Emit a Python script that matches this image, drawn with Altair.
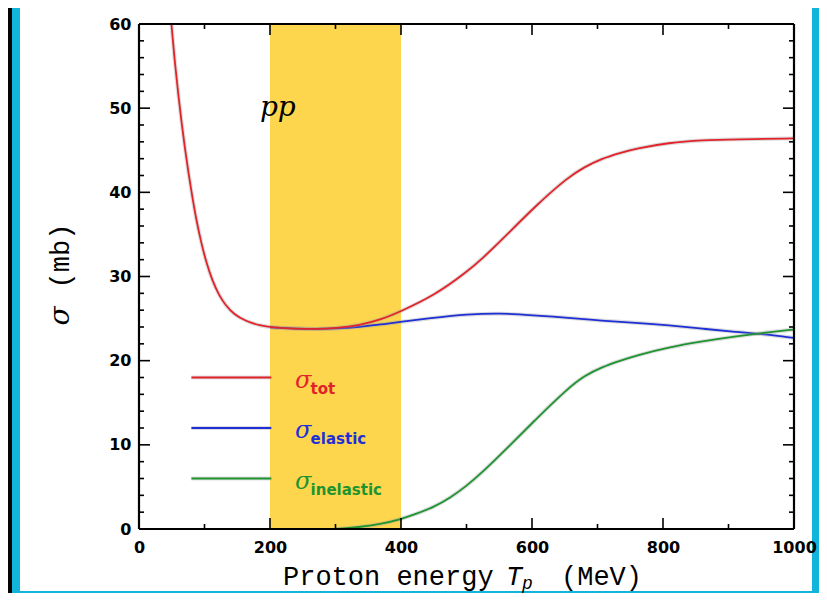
import altair as alt
import pandas as pd

# ---------------- data ----------------
tot_T = [49.5, 55, 60, 65, 70, 75, 80, 87, 95, 103, 112, 122, 132, 145, 163, 185, 203, 240, 271, 300, 337,
         370, 398, 450, 500, 525, 552, 604, 655, 680, 706, 735, 758, 809, 860, 912, 1000]
tot_s = [60, 55.2, 51.6, 48.3, 45.3, 42.6, 40.1, 36.9, 34.0, 31.6, 29.5, 27.8, 26.6, 25.5, 24.7, 24.15, 23.95,
         23.8, 23.75, 23.85, 24.2, 24.9, 25.8, 27.7, 30.5, 32.2, 34.2, 38.3, 41.8, 43.0, 44.0, 44.7, 45.2,
         45.9, 46.2, 46.3, 46.4]

el_T = [200, 240, 271, 300, 337, 370, 398, 450, 500, 552, 600, 656, 706, 758, 809, 860, 912, 955, 1000]
el_s = [23.95, 23.8, 23.75, 23.8, 24.0, 24.3, 24.6, 25.1, 25.5, 25.65, 25.4, 25.1, 24.75, 24.5, 24.2, 23.8,
        23.4, 23.15, 22.7]

inel_T = [300, 340, 370, 399, 420, 450, 475, 500, 525, 553, 604, 656, 680, 707, 735, 758, 809, 860, 912, 963, 1000]
inel_s = [0, 0.25, 0.6, 1.15, 1.7, 2.6, 3.7, 5.1, 6.8, 8.9, 12.9, 16.8, 18.2, 19.25, 20.0, 20.6, 21.6, 22.3,
          22.9, 23.4, 23.7]

band_lo, band_hi = 200, 400

x_ticks = [0, 200, 400, 600, 800, 1000]
x_minor = [100, 300, 500, 700, 900]
x_major_in = [200, 400, 600, 800]
y_ticks = [0, 10, 20, 30, 40, 50, 60]
y_major_in = [10, 20, 30, 40, 50]
y_minor = [2, 4, 6, 8, 12, 14, 16, 18, 22, 24, 26, 28, 32, 34, 36, 38, 42, 44, 46, 48, 52, 54, 56, 58]

series = ["tot", "elastic", "inelastic"]
series_colors = ["#E3232A", "#1F2FD8", "#1E9430"]
legend_y = [18, 12, 6]
legend_x = [80, 202]
legend_label_x = 238
legend_sub_x = 262

# ---------------- layout ----------------
W, H = 655, 505
xs = alt.Scale(domain=[0, 1000], nice=False, zero=False)
ys = alt.Scale(domain=[0, 60], nice=False, zero=False)
x_axis = alt.Axis(values=x_ticks, title=None, labelPadding=10, format="d", zindex=2, labelFlush=False)
y_axis = alt.Axis(values=y_ticks, title=None, labelPadding=8, format="d", zindex=2, labelFlush=False)

one = pd.DataFrame({"a": [0]})

def X(f):
    return alt.X(f, type="quantitative", scale=xs, axis=x_axis)

def Y(f):
    return alt.Y(f, type="quantitative", scale=ys, axis=y_axis)

# frame decoration
white = alt.Chart(one).mark_rect(color="white").encode(
    x=alt.value(-119), x2=alt.value(673), y=alt.value(-16), y2=alt.value(567))
black = alt.Chart(one).mark_rect(color="#050505").encode(
    x=alt.value(-131), x2=alt.value(-127), y=alt.value(-16), y2=alt.value(569))

band = alt.Chart(pd.DataFrame({"lo": [band_lo], "hi": [band_hi], "b": [0], "t": [60]})).mark_rect(
    color="#FDD64E").encode(x=X("lo"), x2="hi", y=Y("b"), y2="t")

def curve(T, s, color):
    df = pd.DataFrame({"T": T, "s": s})
    halo = alt.Chart(df).mark_line(color="#9a9a9a", strokeWidth=4, opacity=0.35,
                                   interpolate="basis", clip=True).encode(x=X("T"), y=Y("s"))
    line = alt.Chart(df).mark_line(color=color, strokeWidth=1.8,
                                   interpolate="basis", clip=True).encode(x=X("T"), y=Y("s"))
    return [halo, line]

layers = [white, black, band]
layers += curve(el_T, el_s, series_colors[1])
layers += curve(inel_T, inel_s, series_colors[2])
layers += curve(tot_T, tot_s, series_colors[0])

# legend lines & labels
leg = pd.DataFrame({"x1": [legend_x[0]] * 3, "x2": [legend_x[1]] * 3, "y": legend_y,
                    "name": series, "lx": [legend_label_x] * 3, "sx": [legend_sub_x] * 3})
cscale = alt.Scale(domain=series, range=series_colors)
layers.append(alt.Chart(leg).mark_rule(color="#9a9a9a", strokeWidth=4, opacity=0.35).encode(
    x=X("x1"), x2="x2", y=Y("y")))
layers.append(alt.Chart(leg).mark_rule(strokeWidth=1.8).encode(
    x=X("x1"), x2="x2", y=Y("y"), color=alt.Color("name:N", scale=cscale, legend=None)))
layers.append(alt.Chart(leg).mark_text(text="σ", font="DejaVu Serif", fontStyle="italic", fontSize=24,
                                       align="left", baseline="alphabetic", dy=10).encode(
    x=X("lx"), y=Y("y"), color=alt.Color("name:N", scale=cscale, legend=None)))
layers.append(alt.Chart(leg).mark_text(font="DejaVu Sans", fontWeight="bold", fontSize=15,
                                       align="left", baseline="alphabetic", dy=16).encode(
    x=X("sx"), y=Y("y"), text="name:N", color=alt.Color("name:N", scale=cscale, legend=None)))

# "pp" label
layers.append(alt.Chart(pd.DataFrame({"x": [212], "y": [49.1]})).mark_text(
    text="pp", font="DejaVu Serif", fontStyle="italic", fontSize=28, align="center",
    baseline="alphabetic", color="black").encode(x=X("x"), y=Y("y")))

# inward ticks on all four sides
def xticks(vals, length):
    df = pd.DataFrame({"v": vals})
    b = alt.Chart(df).mark_rule(color="black", strokeWidth=1.6).encode(
        x=X("v"), y=alt.value(H), y2=alt.value(H - length))
    t = alt.Chart(df).mark_rule(color="black", strokeWidth=1.6).encode(
        x=X("v"), y=alt.value(0), y2=alt.value(length))
    return [b, t]

def yticks(vals, length):
    df = pd.DataFrame({"v": vals})
    l = alt.Chart(df).mark_rule(color="black", strokeWidth=1.6).encode(
        y=Y("v"), x=alt.value(0), x2=alt.value(length))
    r = alt.Chart(df).mark_rule(color="black", strokeWidth=1.6).encode(
        y=Y("v"), x=alt.value(W), x2=alt.value(W - length))
    return [l, r]

layers += xticks(x_major_in, 11) + xticks(x_minor, 5)
layers += yticks(y_major_in, 11) + yticks(y_minor, 5)

# plot frame (four rules)
def frame_rule(**enc):
    return alt.Chart(one).mark_rule(color="black", strokeWidth=2.2).encode(**enc)

layers.append(frame_rule(x=alt.value(0), x2=alt.value(W), y=alt.value(0)))
layers.append(frame_rule(x=alt.value(0), x2=alt.value(W), y=alt.value(H)))
layers.append(frame_rule(y=alt.value(0), y2=alt.value(H), x=alt.value(0)))
layers.append(frame_rule(y=alt.value(0), y2=alt.value(H), x=alt.value(W)))

# axis titles
mono = "Liberation Mono"
def txt(s, x, y, **kw):
    return alt.Chart(one).mark_text(text=s, color="black", **kw).encode(x=alt.value(x), y=alt.value(y))

layers.append(txt("Proton energy", 144, 561, font=mono, fontSize=27, align="left", baseline="alphabetic"))
layers.append(txt("T", 367, 561, font=mono, fontSize=27, fontStyle="italic", align="left", baseline="alphabetic"))
layers.append(txt("p", 383, 565, font=mono, fontSize=18, fontStyle="italic", align="left", baseline="alphabetic"))
layers.append(txt("(MeV)", 422, 561, font=mono, fontSize=27, align="left", baseline="alphabetic"))
layers.append(txt("(mb)", -78, 232, font=mono, fontSize=27, angle=270, align="center", baseline="middle"))
layers.append(txt("σ", -78, 292, font="DejaVu Serif", fontSize=28, fontStyle="italic", angle=270,
                  align="center", baseline="middle"))

chart = alt.layer(*layers).properties(
    width=W, height=H,
    padding={"left": 131, "top": 16, "right": 25, "bottom": 64},
    autosize=alt.AutoSizeParams(type="none"),
    background="#12B4DC",
).configure_view(strokeWidth=0).configure_axis(
    grid=False, domain=False, ticks=False,
    labelFont="DejaVu Sans", labelFontWeight="bold", labelFontSize=16, labelColor="black",
)

chart.save("out.html", embed_options={"renderer": "svg", "actions": False})
